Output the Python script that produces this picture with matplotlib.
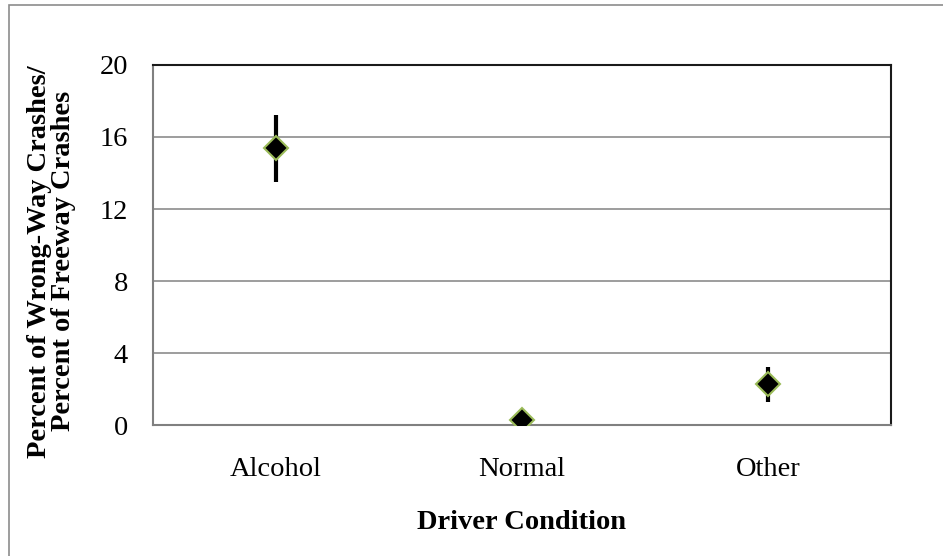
import matplotlib.pyplot as plt
from matplotlib.patches import Rectangle

# data
conditions = ["Alcohol", "Normal", "Other"]
percent = [15.4, 0.28, 2.3]
err_low = [1.9, 0.0, 1.0]
err_high = [1.8, 0.0, 0.9]
y_ticks = [0, 4, 8, 12, 16, 20]

plt.rcParams['font.family'] = ['Liberation Serif', 'DejaVu Serif']

fig = plt.figure(figsize=(9.43, 5.56), dpi=100)
ax = fig.add_axes([0.1622, 0.2356, 0.7827, 0.6475])

# outer chart border (only left/top visible, like the reference crop)
fig.patches.append(Rectangle((9 / 943, -0.05), 1.2, 1 - 5 / 556 + 0.05,
                             transform=fig.transFigure, fill=False,
                             edgecolor='#8c8c8c', linewidth=1.2))

x = range(len(conditions))
ax.errorbar(x, percent, yerr=[err_low, err_high], fmt='none',
            ecolor='black', elinewidth=3, capsize=0, zorder=3)
ax.plot(x, percent, linestyle='none', marker='D', markersize=12,
        markerfacecolor='black', markeredgecolor='#9bbb59',
        markeredgewidth=1.5, zorder=4)

ax.set_xlim(-0.5, 2.5)
ax.set_ylim(0, 20)
ax.set_yticks(y_ticks)
ax.set_xticks(list(x))
ax.set_xticklabels(conditions)
ax.yaxis.grid(True, color='#8c8c8c', linewidth=1.2)
ax.set_axisbelow(True)
ax.tick_params(axis='both', length=0, labelsize=20.5)
ax.tick_params(axis='x', pad=23)
ax.tick_params(axis='y', pad=18)

for side in ['left', 'bottom']:
    ax.spines[side].set_color('#808080')
    ax.spines[side].set_linewidth(1.5)
for side in ['top', 'right']:
    ax.spines[side].set_color('#1a1a1a')
    ax.spines[side].set_linewidth(1.5)

ax.set_xlabel("Driver Condition", fontsize=20.5, fontweight='bold', labelpad=20)
fig.text(0.0546, 0.53, "Percent of Wrong-Way Crashes/\nPercent of Freeway Crashes",
         rotation=90, ha='center', va='center', fontsize=20.5, fontweight='bold',
         linespacing=0.95)

fig.savefig("out.png", dpi=100)
